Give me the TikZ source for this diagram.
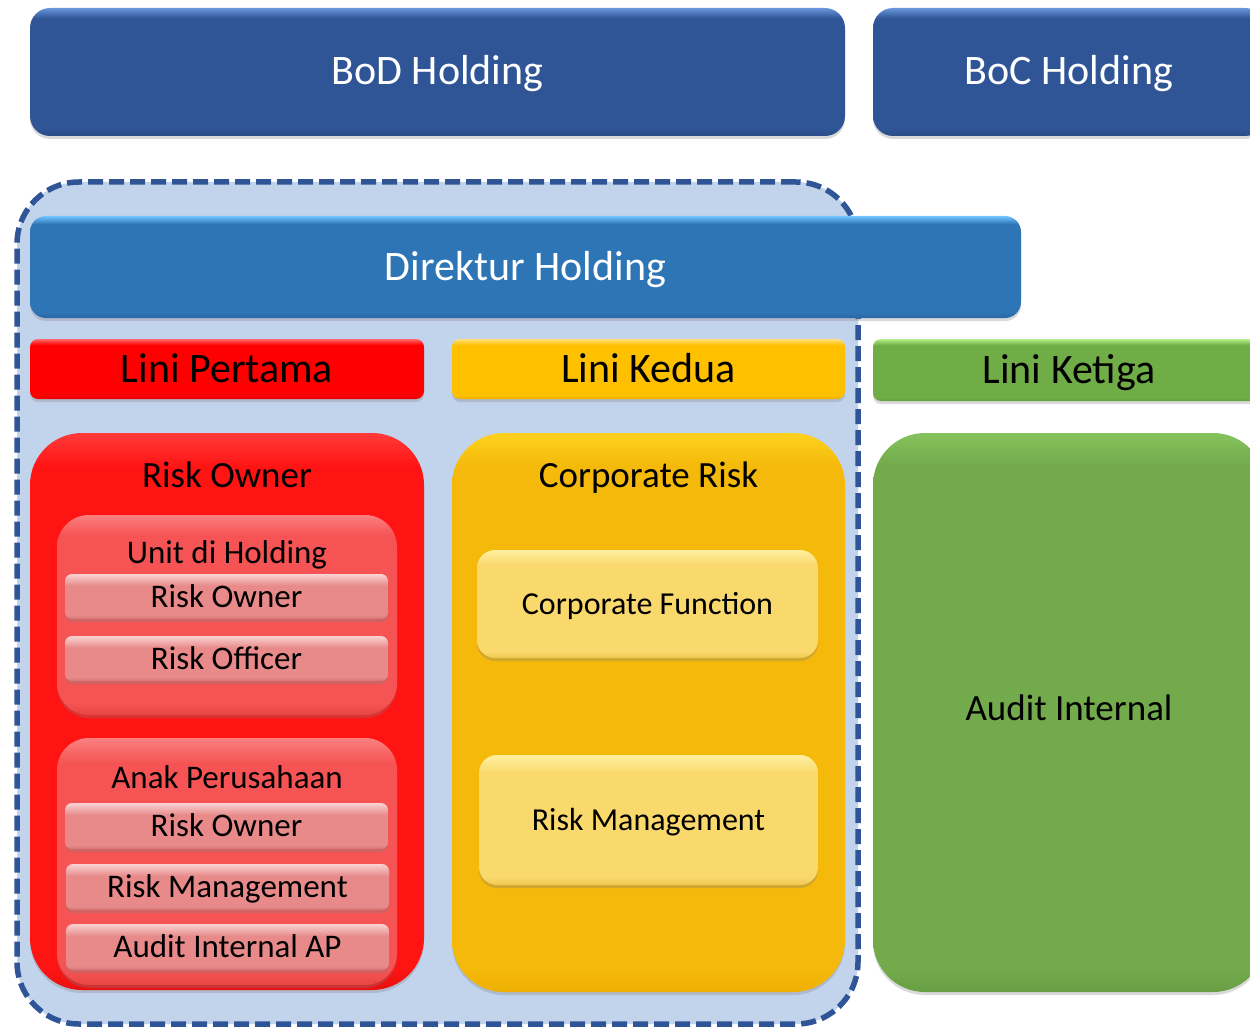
\documentclass[tikz,border=0pt]{standalone}
\usepackage{fontspec}
\setmainfont{Carlito}
\usetikzlibrary{shadows}
\definecolor{bodmain}{HTML}{2F5597}\definecolor{bodlight}{HTML}{6A96DC}\definecolor{boddark}{HTML}{2A4C88}
\definecolor{dirmain}{HTML}{2E75B6}\definecolor{dirlight}{HTML}{72C4FF}\definecolor{dirdark}{HTML}{2A68A4}
\definecolor{redmain}{HTML}{FF0000}\definecolor{redlight}{HTML}{FF6A6A}\definecolor{reddark}{HTML}{E00000}
\definecolor{yelmain}{HTML}{FFC000}\definecolor{yellight}{HTML}{FFE07A}\definecolor{yeldark}{HTML}{EBAE00}
\definecolor{grnmain}{HTML}{70AD47}\definecolor{grnlight}{HTML}{B4F08A}\definecolor{grndark}{HTML}{649C3F}
\definecolor{bigred}{HTML}{FF1414}\definecolor{bigredl}{HTML}{FF3A3A}\definecolor{bigredd}{HTML}{E81010}
\definecolor{inred}{HTML}{F65454}\definecolor{inredl}{HTML}{FA8080}\definecolor{inredd}{HTML}{E84444}
\definecolor{barred}{HTML}{E88A8A}\definecolor{barredl}{HTML}{FAD2D2}\definecolor{barredd}{HTML}{D47272}
\definecolor{bigyel}{HTML}{F4B90A}\definecolor{bigyell}{HTML}{FFD21E}\definecolor{bigyeld}{HTML}{EFB000}
\definecolor{inyel}{HTML}{F9D86C}\definecolor{inyell}{HTML}{FFF0A0}\definecolor{inyeld}{HTML}{F0C850}
\definecolor{biggrn}{HTML}{72AA4C}\definecolor{biggrnl}{HTML}{86C25C}\definecolor{biggrnd}{HTML}{689E44}
\definecolor{dashblue}{HTML}{2F5597}\definecolor{zonebg}{HTML}{C2D3EC}
\pgfdeclareverticalshading{shBod}{100bp}{color(0bp)=(boddark); color(25bp)=(boddark); color(28bp)=(bodmain); color(71bp)=(bodmain); color(75bp)=(bodlight); color(100bp)=(bodlight)}
\pgfdeclareverticalshading{shDir}{100bp}{color(0bp)=(dirdark); color(25bp)=(dirdark); color(28bp)=(dirmain); color(71bp)=(dirmain); color(75bp)=(dirlight); color(100bp)=(dirlight)}
\pgfdeclareverticalshading{shRed}{100bp}{color(0bp)=(reddark); color(25bp)=(reddark); color(28bp)=(redmain); color(70bp)=(redmain); color(75bp)=(redlight); color(100bp)=(redlight)}
\pgfdeclareverticalshading{shYel}{100bp}{color(0bp)=(yeldark); color(25bp)=(yeldark); color(28bp)=(yelmain); color(70bp)=(yelmain); color(75bp)=(yellight); color(100bp)=(yellight)}
\pgfdeclareverticalshading{shGrn}{100bp}{color(0bp)=(grndark); color(25bp)=(grndark); color(28bp)=(grnmain); color(70bp)=(grnmain); color(75bp)=(grnlight); color(100bp)=(grnlight)}
\pgfdeclareverticalshading{shBigRed}{100bp}{color(0bp)=(bigredd); color(25bp)=(bigredd); color(27bp)=(bigred); color(72bp)=(bigred); color(75bp)=(bigredl); color(100bp)=(bigredl)}
\pgfdeclareverticalshading{shInRed}{100bp}{color(0bp)=(inredd); color(25bp)=(inredd); color(28bp)=(inred); color(70bp)=(inred); color(75bp)=(inredl); color(100bp)=(inredl)}
\pgfdeclareverticalshading{shBar}{100bp}{color(0bp)=(barredd); color(25bp)=(barredd); color(29bp)=(barred); color(62bp)=(barred); color(75bp)=(barredl); color(100bp)=(barredl)}
\pgfdeclareverticalshading{shBigYel}{100bp}{color(0bp)=(bigyeld); color(25bp)=(bigyeld); color(27bp)=(bigyel); color(72bp)=(bigyel); color(75bp)=(bigyell); color(100bp)=(bigyell)}
\pgfdeclareverticalshading{shInYel}{100bp}{color(0bp)=(inyeld); color(25bp)=(inyeld); color(28bp)=(inyel); color(68bp)=(inyel); color(75bp)=(inyell); color(100bp)=(inyell)}
\pgfdeclareverticalshading{shBigGrn}{100bp}{color(0bp)=(biggrnd); color(25bp)=(biggrnd); color(27bp)=(biggrn); color(72bp)=(biggrn); color(75bp)=(biggrnl); color(100bp)=(biggrnl)}
\tikzset{
  boxbase/.style={draw=none, inner sep=0pt, align=center,
    drop shadow={shadow xshift=0pt, shadow yshift=-3pt, opacity=0.3}},
  fbig/.style={font=\fontsize{42}{50}\selectfont, text height=26pt, text depth=0pt},
  fmid/.style={font=\fontsize{37}{44}\selectfont, text height=23.5pt, text depth=0pt},
  fsmall/.style={font=\fontsize{33}{40}\selectfont, text height=21pt, text depth=0pt},
  fcf/.style={font=\fontsize{32}{40}\selectfont, text height=20.5pt, text depth=0pt},
  titletext/.style={inner sep=0pt, anchor=center, text=black},
}
\begin{document}
\begin{tikzpicture}[x=1pt, y=-1pt]
\useasboundingbox (0,0) rectangle (1250,1027);
% top boards
\node[boxbase, shading=shBod, rounded corners=20pt, minimum width=815pt, minimum height=128pt, text=white, fbig] (bod) at (437.5,72) {BoD Holding};
\node[boxbase, shading=shBod, rounded corners=20pt, minimum width=392pt, minimum height=128pt, text=white, fbig] (boc) at (1069,72) {BoC Holding};
% dashed zone
\node[draw=dashblue, fill=zonebg, line width=5.5pt, dash pattern=on 15pt off 6pt, rounded corners=62pt, inner sep=0pt, minimum width=841pt, minimum height=842pt] (zone) at (437.5,603) {};
% direktur
\node[boxbase, shading=shDir, rounded corners=16pt, minimum width=991pt, minimum height=102pt, text=white, fbig] (dir) at (525.5,267) {Direktur Holding};
% lines
\node[boxbase, shading=shRed, rounded corners=8pt, minimum width=394pt, minimum height=60pt, text=black, fbig] (l1) at (227,369) {Lini Pertama};
\node[boxbase, shading=shYel, rounded corners=8pt, minimum width=393pt, minimum height=60pt, text=black, fbig] (l2) at (648.5,369) {Lini Kedua};
\node[boxbase, shading=shGrn, rounded corners=8pt, minimum width=392pt, minimum height=62pt, text=black, fbig] (l3) at (1069,370) {Lini Ketiga};
% big columns
\node[boxbase, shading=shBigRed, rounded corners=52pt, minimum width=394pt, minimum height=557pt] (ro) at (227,711.5) {};
\node[titletext, fmid] (rot) at (227,476) {Risk Owner};
\node[boxbase, shading=shBigYel, rounded corners=52pt, minimum width=393pt, minimum height=559pt] (cr) at (648.5,712.5) {};
\node[titletext, fmid] (crt) at (648.5,476) {Corporate Risk};
\node[boxbase, shading=shBigGrn, rounded corners=52pt, minimum width=392pt, minimum height=559pt, text=black, fmid, text depth=7pt] (ai) at (1069,712.5) {Audit Internal};
% Unit di Holding
\node[boxbase, shading=shInRed, rounded corners=32pt, minimum width=340pt, minimum height=200pt] (udh) at (227,615) {};
\node[titletext, fsmall] (udht) at (227,553) {Unit di Holding};
\node[boxbase, shading=shBar, rounded corners=7pt, minimum width=323pt, minimum height=45pt, text=black, fsmall] (b1) at (226.5,596.5) {Risk Owner};
\node[boxbase, shading=shBar, rounded corners=7pt, minimum width=323pt, minimum height=45pt, text=black, fsmall] (b2) at (226.5,658.5) {Risk Officer};
% Anak Perusahaan
\node[boxbase, shading=shInRed, rounded corners=32pt, minimum width=340pt, minimum height=247pt] (ap) at (227,861.5) {};
\node[titletext, fsmall] (apt) at (227,778) {Anak Perusahaan};
\node[boxbase, shading=shBar, rounded corners=7pt, minimum width=323pt, minimum height=46pt, text=black, fsmall] (b3) at (226.5,826) {Risk Owner};
\node[boxbase, shading=shBar, rounded corners=7pt, minimum width=323pt, minimum height=46pt, text=black, fsmall] (b4) at (227.5,887) {Risk Management};
\node[boxbase, shading=shBar, rounded corners=7pt, minimum width=323pt, minimum height=46pt, text=black, fsmall] (b5) at (227.5,947) {Audit Internal AP};
% Corporate Risk inner
\node[boxbase, shading=shInYel, rounded corners=18pt, minimum width=341pt, minimum height=108pt, text=black, fcf] (cf) at (647.5,604) {Corporate Function};
\node[boxbase, shading=shInYel, rounded corners=18pt, minimum width=339pt, minimum height=130pt, text=black, fcf] (rm) at (648.5,820) {Risk Management};
\end{tikzpicture}
\end{document}
